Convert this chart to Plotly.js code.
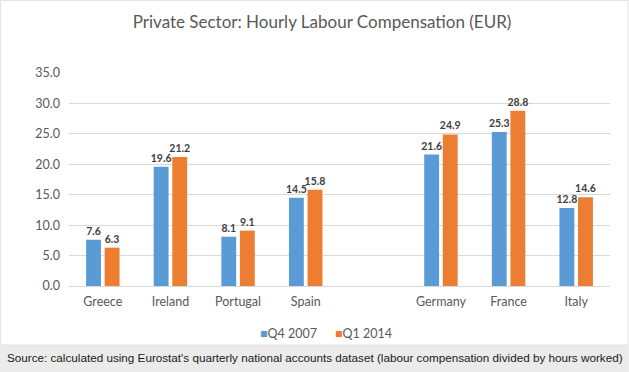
<!DOCTYPE html>
<html>
<head>
<meta charset="utf-8">
<script src="https://cdn.plot.ly/plotly-3.0.1.min.js"></script>
<style>
html,body{margin:0;padding:0;background:#fff;}
#chart{width:629px;height:372px;}
</style>
</head>
<body>
<div id="chart"></div>
<script>
var categories = ["Greece", "Ireland", "Portugal", "Spain", " ", "Germany", "France", "Italy"];
var q4_2007 = [7.6, 19.6, 8.1, 14.5, null, 21.6, 25.3, 12.8];
var q1_2014 = [6.3, 21.2, 9.1, 15.8, null, 24.9, 28.8, 14.6];
var seriesNames = ["Q4 2007", "Q1 2014"];
var seriesColors = ["#5B9BD5", "#ED7D31"];
var yTicks = [0, 5, 10, 15, 20, 25, 30, 35];
var titleText = "Private Sector: Hourly Labour Compensation (EUR)";
var sourceText = "Source: calculated using Eurostat's quarterly national accounts dataset (labour compensation divided by hours worked)";

var font = "Lato, 'Open Sans', sans-serif";
var labelFont = {family: font, size: 10.5, color: "#404040", weight: "bold"};

function fmt(arr){ return arr.map(function(v){ return v == null ? "" : v.toFixed(1); }); }

var traces = [
  {type: "bar", name: seriesNames[0], x: categories, y: q4_2007,
   marker: {color: seriesColors[0]}, text: fmt(q4_2007), constraintext: "none",
   textposition: "outside", textfont: labelFont, cliponaxis: false, showlegend: false},
  {type: "bar", name: seriesNames[1], x: categories, y: q1_2014,
   marker: {color: seriesColors[1]}, text: fmt(q1_2014), constraintext: "none",
   textposition: "outside", textfont: labelFont, cliponaxis: false, showlegend: false}
];

var legendFont = {family: font, size: 12.5, color: "#595959"};

var layout = {
  width: 629, height: 372,
  margin: {l: 69, r: 19, t: 73, b: 86},
  paper_bgcolor: "#ffffff", plot_bgcolor: "#ffffff",
  barmode: "group", bargap: 0.45, bargroupgap: 0.2,
  uniformtext: {mode: false},
  title: {text: titleText, x: 0.512, xanchor: "center", xref: "container", y: 0.94, yanchor: "middle",
          font: {family: font, size: 17, color: "#595959"}},
  xaxis: {type: "category", categoryorder: "array", categoryarray: categories,
          showgrid: false, zeroline: false, showline: false, ticks: "", ticklabelstandoff: 6,
          tickfont: {family: font, size: 12.5, color: "#595959"}, fixedrange: true},
  yaxis: {range: [0, 35], tickvals: yTicks, tickformat: ".1f", showgrid: true, gridcolor: "#D9D9D9", gridwidth: 1,
          zeroline: true, zerolinecolor: "#D9D9D9", zerolinewidth: 1, showline: false, ticks: "",
          ticklabelstandoff: 8,
          tickfont: {family: font, size: 12.5, color: "#595959"}, fixedrange: true},
  showlegend: false,
  shapes: [
    {type: "rect", xref: "paper", yref: "paper", x0: -0.1274, x1: 1.0348, y0: -0.277, y1: -0.41,
     fillcolor: "#EBEBEB", line: {width: 0}, layer: "below"},
    {type: "rect", xref: "paper", yref: "paper", x0: -0.1265, x1: 1.033, y0: -0.277, y1: 1.34,
     fillcolor: "rgba(0,0,0,0)", line: {width: 1, color: "#E3E3E3"}, layer: "below"}
  ],
  annotations: [
    {xref: "paper", yref: "paper", x: 0.4617, y: -0.221, xanchor: "right", yanchor: "middle", showarrow: false,
     text: "<span style='color:" + seriesColors[0] + "'>■</span>" + seriesNames[0], font: legendFont},
    {xref: "paper", yref: "paper", x: 0.488, y: -0.221, xanchor: "left", yanchor: "middle", showarrow: false,
     text: "<span style='color:" + seriesColors[1] + "'>■</span>" + seriesNames[1], font: legendFont},
    {xref: "paper", yref: "paper", x: -0.118, y: -0.338, xanchor: "left", yanchor: "middle",
     text: sourceText, showarrow: false,
     font: {family: "'Liberation Sans', Arial, sans-serif", size: 11.7, color: "#1a1a1a"}}
  ]
};

Plotly.newPlot("chart", traces, layout, {displayModeBar: false, staticPlot: true});
</script>
</body>
</html>
